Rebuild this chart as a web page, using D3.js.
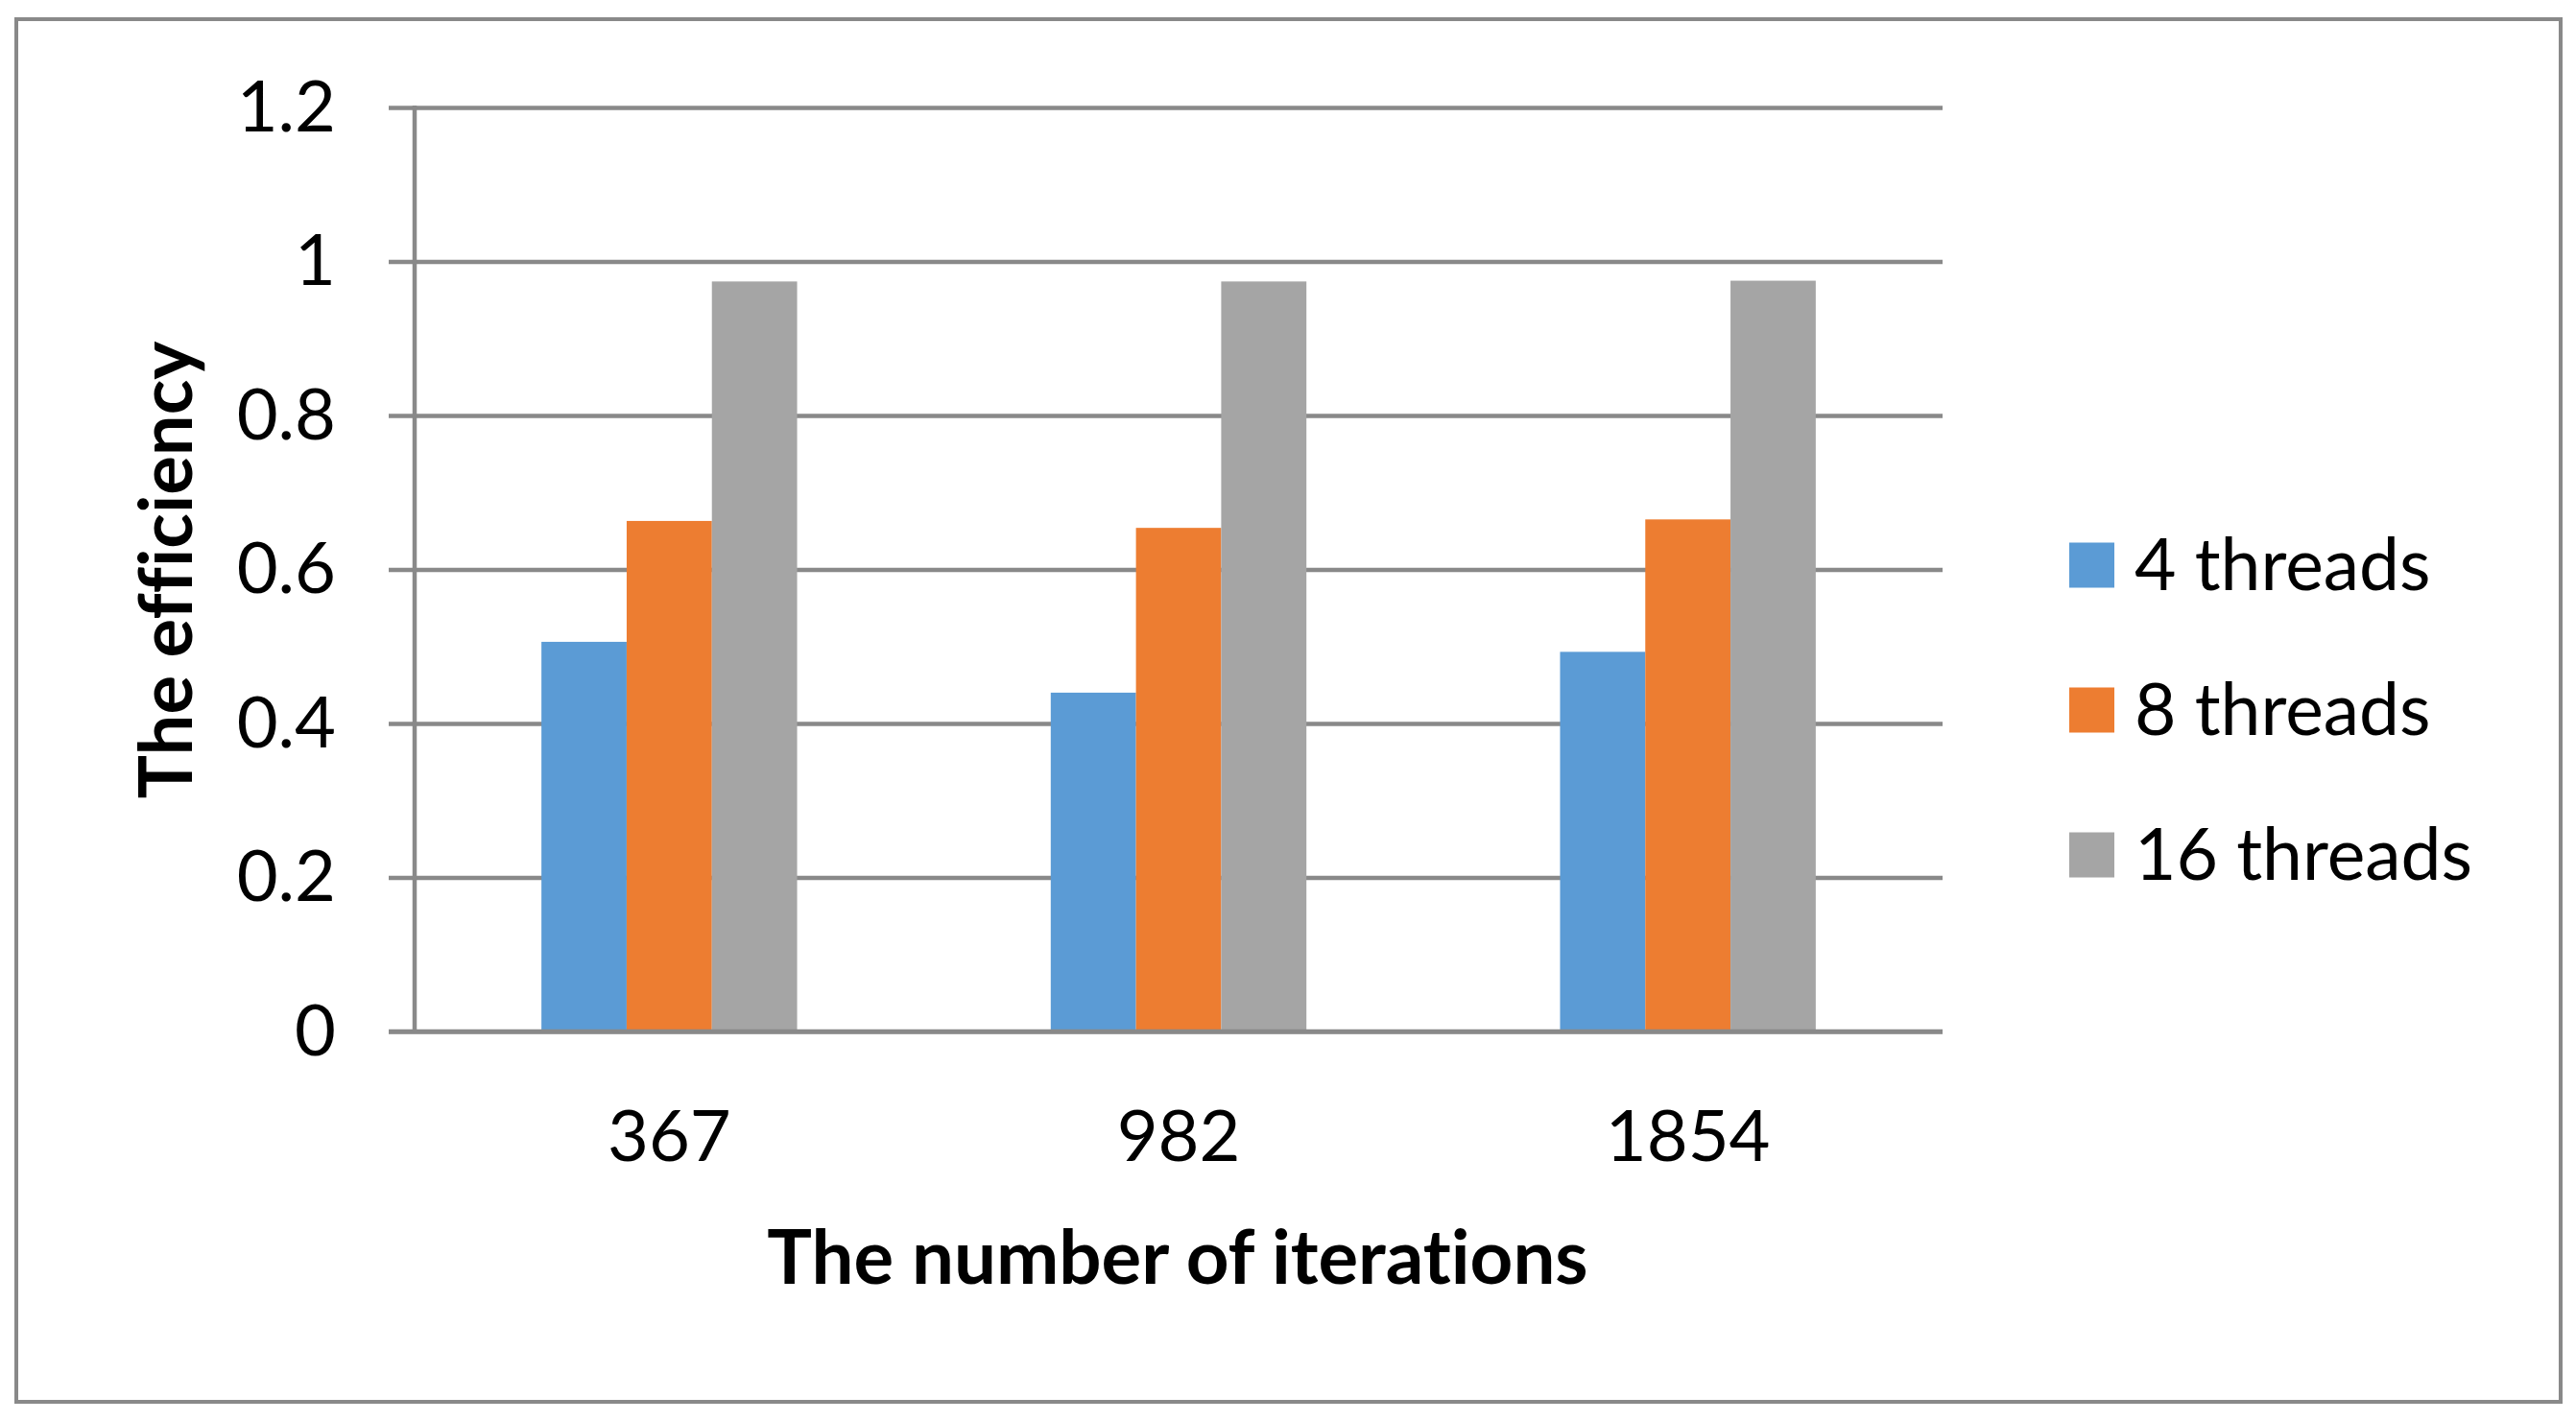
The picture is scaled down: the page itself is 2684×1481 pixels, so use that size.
<!DOCTYPE html>
<html>
<head>
<meta charset="utf-8">
<script src="https://cdn.jsdelivr.net/npm/d3@7"></script>
<style>
  html, body { margin: 0; padding: 0; background: #ffffff; }
  svg { display: block; }
  text { font-variant-ligatures: none; font-feature-settings: "liga" 0, "clig" 0, "dlig" 0; }
</style>
</head>
<body>
<svg id="chart" width="2684" height="1481"></svg>
<script>
// ---- data ----
const categories = ["367", "982", "1854"];
const seriesNames = ["4 threads", "8 threads", "16 threads"];
const threads4 = [0.506, 0.440, 0.493];
const threads8 = [0.663, 0.654, 0.665];
const threads16 = [0.974, 0.974, 0.975];
const yTickValues = [0, 0.2, 0.4, 0.6, 0.8, 1.0, 1.2];
const yTickLabels = ["0", "0.2", "0.4", "0.6", "0.8", "1", "1.2"];
const xTitle = "The number of iterations";
const yTitle = "The efficiency";
const colors = ["#5B9BD5", "#ED7D31", "#A5A5A5"];

const seriesValues = [threads4, threads8, threads16];
const table = categories.map((c, i) => ({
  category: c,
  values: seriesNames.map((s, k) => ({ series: s, value: seriesValues[k][i], k }))
}));

// ---- layout ----
const W = 2684, H = 1481;
const FONT = "Lato, Carlito, Calibri, 'Open Sans', sans-serif";
const gridColor = "#898989";
const plotLeft = 432, plotRight = 2024, plotTop = 112, plotBottom = 1075;
const gridLeft = 405;

const svg = d3.select("#chart");

svg.append("rect").attr("width", W).attr("height", H).attr("fill", "#fff");
// outer border
svg.append("rect")
  .attr("x", 17).attr("y", 20).attr("width", 2651).attr("height", 1441)
  .attr("fill", "none").attr("stroke", gridColor).attr("stroke-width", 4);

const x = d3.scaleBand().domain(categories).range([plotLeft, plotRight])
  .paddingInner(0.498).paddingOuter(0.249);
const xs = d3.scaleBand().domain(seriesNames).range([0, x.bandwidth()]).padding(0);
const y = d3.scaleLinear().domain([0, 1.2]).range([plotBottom, plotTop]);

// y gridlines + tick labels
const yAxis = d3.axisLeft(y)
  .tickValues(yTickValues)
  .tickFormat((d, i) => yTickLabels[i])
  .tickSize(-(plotRight - gridLeft))
  .tickPadding(55);

const gy = svg.append("g").attr("transform", `translate(${gridLeft},0)`).call(yAxis);
gy.select(".domain").remove();
gy.selectAll(".tick line").attr("stroke", gridColor).attr("stroke-width", 4.5);
gy.selectAll(".tick text")
  .attr("fill", "#000")
  .attr("font-family", FONT)
  .attr("font-size", 74)
  .attr("dy", "0.33em");

// bars
const groups = svg.append("g").selectAll("g")
  .data(table).join("g")
  .attr("transform", d => `translate(${x(d.category)},0)`);
groups.selectAll("rect")
  .data(d => d.values).join("rect")
  .attr("x", d => xs(d.series))
  .attr("width", xs.bandwidth())
  .attr("y", d => y(d.value))
  .attr("height", d => y(0) - y(d.value))
  .attr("fill", d => colors[d.k]);

// redraw bottom axis line over bars
svg.append("line")
  .attr("x1", gridLeft).attr("x2", plotRight)
  .attr("y1", y(0)).attr("y2", y(0))
  .attr("stroke", gridColor).attr("stroke-width", 4.5);

// vertical y axis line
svg.append("line")
  .attr("x1", plotLeft).attr("x2", plotLeft)
  .attr("y1", y(1.2) - 2).attr("y2", y(0))
  .attr("stroke", gridColor).attr("stroke-width", 4.5);

// x axis category labels
const xAxis = d3.axisBottom(x).tickSize(0).tickPadding(0);
const gx = svg.append("g").attr("transform", `translate(0,${y(0)})`).call(xAxis);
gx.select(".domain").remove();
gx.selectAll(".tick text")
  .attr("fill", "#000")
  .attr("font-family", FONT)
  .attr("font-size", 74)
  .attr("dy", 0)
  .attr("y", 135);

// axis titles
svg.append("text")
  .attr("x", 1227).attr("y", 1338)
  .attr("text-anchor", "middle")
  .attr("font-family", FONT).attr("font-weight", "bold").attr("font-size", 78)
  .attr("fill", "#000")
  .text(xTitle);

svg.append("text")
  .attr("transform", "translate(200,594) rotate(-90)")
  .attr("text-anchor", "middle")
  .attr("font-family", FONT).attr("font-weight", "bold").attr("font-size", 76)
  .attr("fill", "#000")
  .text(yTitle);

// legend
const legendRowY = d3.scalePoint().domain(seriesNames).range([589, 891]);
const lg = svg.append("g").selectAll("g")
  .data(seriesNames).join("g")
  .attr("transform", d => `translate(2156,${legendRowY(d)})`);
lg.append("rect")
  .attr("x", 0).attr("y", -23.5).attr("width", 47).attr("height", 47)
  .attr("fill", (d, i) => colors[i]);
lg.append("text")
  .attr("x", 68).attr("y", 26)
  .attr("font-family", FONT).attr("font-size", 75)
  .attr("fill", "#000")
  .text(d => d);
</script>
</body>
</html>
